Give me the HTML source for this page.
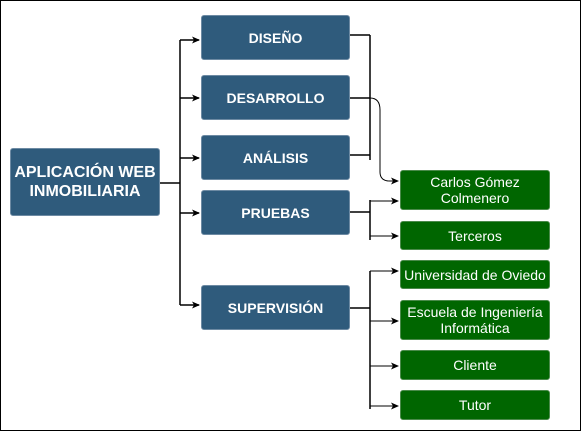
<!DOCTYPE html>
<html><head><style>
body{margin:0;width:581px;height:431px;overflow:hidden;background:#fff;font-family:"Liberation Sans",sans-serif}
.b{position:absolute;box-sizing:border-box;display:flex;align-items:center;justify-content:center;text-align:center;color:#fff;border-radius:3px;white-space:nowrap}
.p{background:#2f5b7c;font-weight:bold;font-size:14px;border:1px solid #6d8aa3}
.g{background:#006600;font-size:14px;line-height:16px;border:1px solid #4a8a4a}
</style></head><body>
<div style="position:absolute;left:0;top:0;width:579px;height:429px;border:1px solid #000"></div>
<svg width="581" height="431" style="position:absolute;left:0;top:0">
<defs><marker id="a" markerWidth="8" markerHeight="8" refX="7" refY="4" orient="auto" markerUnits="userSpaceOnUse"><path d="M0,0.5 L8,4 L0,7.5 L2,4z" fill="#000"/></marker></defs>
<g stroke="#000" stroke-width="1.5" fill="none">
<path d="M160,183H180M180,40V305"/>
<path d="M180,40H199" marker-end="url(#a)"/>
<path d="M180,98H199" marker-end="url(#a)"/>
<path d="M180,158H199" marker-end="url(#a)"/>
<path d="M180,213H199" marker-end="url(#a)"/>
<path d="M180,305H199" marker-end="url(#a)"/>
<path d="M350,35H370M350,98H370M350,155H370M370,35V160"/>
<path d="M370,98Q380,98 380,110V172Q380,181 390,181H398" stroke-width="1" marker-end="url(#a)"/>
<path d="M350,212H370M370,200V240"/>
<path d="M370,201H398" stroke-width="1" marker-end="url(#a)"/>
<path d="M370,236H398" stroke-width="1" marker-end="url(#a)"/>
<path d="M350,308H370M370,271V409"/>
<path d="M370,271H398" stroke-width="1" marker-end="url(#a)"/>
<path d="M370,321H398" stroke-width="1" marker-end="url(#a)"/>
<path d="M370,366H398" stroke-width="1" marker-end="url(#a)"/>
<path d="M370,406H398" stroke-width="1" marker-end="url(#a)"/>
</g></svg>
<div class="b p" style="left:10px;top:148px;width:150px;height:68px;font-size:16px;line-height:19px">APLICACIÓN WEB<br>INMOBILIARIA</div>
<div class="b p" style="left:201px;top:15px;width:149px;height:45px">DISEÑO</div>
<div class="b p" style="left:201px;top:75px;width:149px;height:45px">DESARROLLO</div>
<div class="b p" style="left:201px;top:135px;width:149px;height:45px">ANÁLISIS</div>
<div class="b p" style="left:201px;top:190px;width:149px;height:45px">PRUEBAS</div>
<div class="b p" style="left:201px;top:285px;width:149px;height:45px">SUPERVISIÓN</div>
<div class="b g" style="left:400px;top:170px;width:150px;height:40px">Carlos Gómez<br>Colmenero</div>
<div class="b g" style="left:400px;top:221px;width:150px;height:29px">Terceros</div>
<div class="b g" style="left:400px;top:260px;width:150px;height:29px">Universidad de Oviedo</div>
<div class="b g" style="left:400px;top:300px;width:150px;height:40px">Escuela de Ingeniería<br>Informática</div>
<div class="b g" style="left:400px;top:350px;width:150px;height:30px">Cliente</div>
<div class="b g" style="left:400px;top:390px;width:150px;height:30px">Tutor</div>
</body></html>
